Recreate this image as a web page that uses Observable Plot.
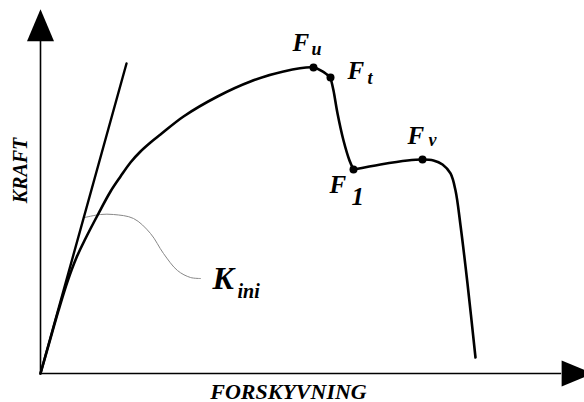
<!DOCTYPE html>
<html>
<head>
<meta charset="utf-8">
<script src="https://cdn.jsdelivr.net/npm/d3@7"></script>
<script src="https://cdn.jsdelivr.net/npm/@observablehq/plot@0.6"></script>
<style>
  html, body { margin: 0; padding: 0; background: #fff; overflow: hidden; }
</style>
</head>
<body>
<script>
// Load–displacement curve (arbitrary units, 0–100 on both axes)
const riseX = [0, 1.47, 3.31, 4.96, 6.62, 8.09, 10.66, 12.87, 14.71, 16.54, 18.38, 20.22, 22.06, 26.29, 32.54, 38.60, 44.67, 50.18, 51.84, 53.31];
const riseY = [0, 7.71, 17.36, 25.34, 31.96, 36.64, 44.08, 50.14, 54.27, 58.13, 61.16, 63.64, 65.84, 70.80, 76.31, 80.44, 83.20, 84.30, 83.20, 81.54];
const dropX = [53.31, 53.86, 54.60, 55.70, 56.80, 57.54];
const dropY = [81.54, 77.96, 71.63, 64.19, 58.68, 56.20];
const tailX = [57.54, 62.50, 67.46, 70.22, 72.24, 73.90, 75.37, 76.29, 77.21, 78.49, 79.96];
const tailY = [56.20, 57.58, 58.68, 58.95, 58.68, 57.58, 55.10, 50.41, 40.77, 24.79, 4.41];

// Initial stiffness tangent
const tangentX = [0, 15.81];
const tangentY = [0, 85.40];

// Leader from the tangent to the K_ini label
const leaderX = [8.13, 11.03, 13.42, 17.10, 20.22, 22.61, 25.18, 27.57, 29.41];
const leaderY = [42.98, 43.80, 43.80, 42.70, 38.57, 33.06, 28.37, 26.45, 26.17];

// Marked points
const pointSub = ["u", "t", "1", "v"];
const pointX = [50.18, 53.31, 57.54, 70.22];
const pointY = [84.30, 81.54, 56.20, 58.95];

// Axis extents (where the arrowheads sit)
const axisEndX = 95.8;
const axisEndY = 91.5;

const axisTitleX = "FORSKYVNING";
const axisTitleY = "KRAFT";

// build tables
const seg = (name, xs, ys) => xs.map((x, i) => ({seg: name, x, y: ys[i]}));
const curve = [...seg("rise", riseX, riseY), ...seg("drop", dropX, dropY), ...seg("tail", tailX, tailY)];
const tangent = tangentX.map((x, i) => ({x, y: tangentY[i]}));
const leader = leaderX.map((x, i) => ({x, y: leaderY[i]}));
const points = pointSub.map((s, i) => ({s, x: pointX[i], y: pointY[i]}));

const arrowHead = (w, l) => ({
  draw(ctx) { ctx.moveTo(-w / 2, 0); ctx.lineTo(w / 2, 0); ctx.lineTo(0, -l); ctx.closePath(); }
});

const font = {fontFamily: "'Liberation Serif', 'Times New Roman', serif", fontWeight: "bold", fontStyle: "italic", fill: "black"};

// label offsets (screen px) for main letter and subscript
const labelStyle = {
  u: {main: [-21, -16], sub: [-2, -12], subSize: 18},
  t: {main: [17, 1], sub: [37, 6], subSize: 18},
  "1": {main: [-24, 24], sub: [-2, 36], subSize: 25},
  v: {main: [-15, -16], sub: [6, -14], subSize: 18}
};

const labelMarks = points.flatMap(p => {
  const st = labelStyle[p.s];
  return [
    Plot.text([p], {x: "x", y: "y", text: () => "F", dx: st.main[0], dy: st.main[1], textAnchor: "start", lineAnchor: "bottom", fontSize: 25, ...font}),
    Plot.text([p], {x: "x", y: "y", text: "s", dx: st.sub[0], dy: st.sub[1], textAnchor: "start", lineAnchor: "bottom", fontSize: st.subSize, ...font})
  ];
});

const leaderEnd = leader[leader.length - 1];

const chart = Plot.plot({
  width: 584,
  height: 402,
  marginLeft: 40,
  marginRight: 0,
  marginTop: 10,
  marginBottom: 29,
  x: {domain: [0, 100], axis: null},
  y: {domain: [0, 100], axis: null},
  style: {background: "white", overflow: "hidden"},
  marks: [
    // axes
    Plot.ruleX([0], {y1: 0, y2: axisEndY, stroke: "black", strokeWidth: 1.6}),
    Plot.ruleY([0], {x1: 0, x2: axisEndX, stroke: "black", strokeWidth: 1.6}),
    Plot.dot([{x: 0, y: axisEndY}], {x: "x", y: "y", symbol: arrowHead(27, 32), fill: "black", stroke: "none"}),
    Plot.dot([{x: axisEndX, y: 0}], {x: "x", y: "y", symbol: arrowHead(26, 31), rotate: 90, fill: "black", stroke: "none"}),
    // leader
    Plot.line(leader, {x: "x", y: "y", curve: "catmull-rom", stroke: "#888", strokeWidth: 1}),
    // tangent
    Plot.line(tangent, {x: "x", y: "y", stroke: "black", strokeWidth: 2.4}),
    // curve
    Plot.line(curve, {x: "x", y: "y", z: "seg", curve: "catmull-rom", stroke: "black", strokeWidth: 2.6, strokeLinejoin: "round"}),
    Plot.dot(points, {x: "x", y: "y", r: 4, fill: "black", stroke: "none"}),
    ...labelMarks,
    // K_ini label
    Plot.text([leaderEnd], {x: "x", y: "y", text: () => "K", dx: 12, dy: 10, textAnchor: "start", lineAnchor: "bottom", fontSize: 32, ...font}),
    Plot.text([leaderEnd], {x: "x", y: "y", text: () => "ini", dx: 37, dy: 19, textAnchor: "start", lineAnchor: "bottom", fontSize: 20, ...font}),
    // axis titles
    Plot.text([axisTitleY], {text: d => d, frameAnchor: "left", textAnchor: "middle", rotate: -90, dx: -20, dy: -21.5, lineAnchor: "middle", fontSize: 20, ...font}),
    Plot.text([axisTitleX], {text: d => d, frameAnchor: "bottom", textAnchor: "middle", lineAnchor: "bottom", dx: -24, dy: 25, fontSize: 22, ...font})
  ]
});

document.body.appendChild(chart);
</script>
</body>
</html>
